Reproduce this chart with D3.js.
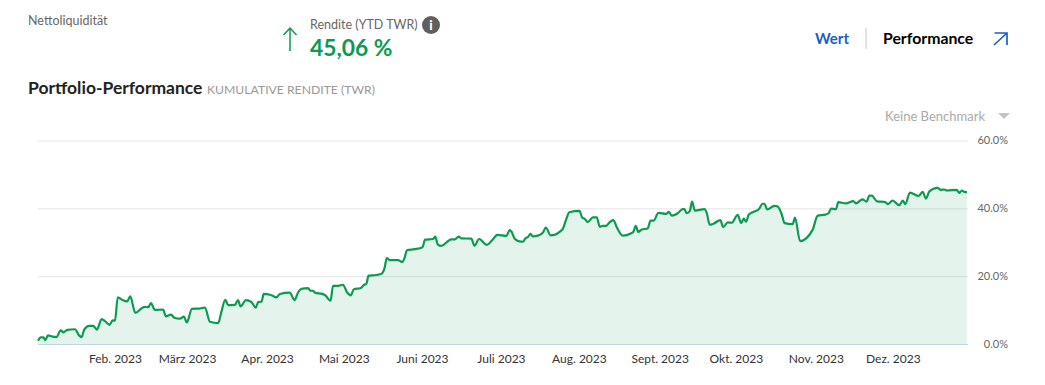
<!DOCTYPE html>
<html lang="de">
<head>
<meta charset="utf-8">
<script src="https://cdn.jsdelivr.net/npm/d3@7"></script>
<style>
	html, body { margin: 0; padding: 0; background: #fff; }
	svg { display: block; font-family: Lato, "Open Sans", sans-serif; }
	.domain { display: none; }
	.tick line { display: none; }
</style>
</head>
<body>
<div id="viz-container"></div>
<script>
// days since 1 Jan 2023
const days = [0,1.1,2.1,2.9,3.9,5.8,7.3,8.9,9.9,11.5,14.5,16.1,17.1,18.2,20.1,21.7,23.1,25,26.3,28.1,29.3,30.2,
	31.3,33.2,35,36.2,38.2,40.7,42,43.3,44.3,45.9,49.1,50.2,52.2,53.5,55.7,57.3,58.4,60.4,63.5,65.5,67.5,70.7,72,73.5,74.6,77.3,78.5,79.5,81.6,83.8,85.5,86.4,87.7,88.6,
	91.6,93.6,94.9,98.8,100.7,102.1,103.4,106,106.9,108,108.9,111.3,112.9,114.8,115.8,117.8,119.7,
	121.3,122.7,124,126.5,128,128.9,129.7,132.8,134.9,136,136.9,138,141.3,143,143.8,144.8,147.8,150.9,
	151.9,155,155.9,157,158.3,162.2,163.6,165.1,166.2,170.1,171.3,173.1,176.2,178.3,180.3,
	183.8,185.1,185.8,187.1,189,190.3,191.4,192.3,193.3,194.2,196.2,198.2,199.3,201.2,202.7,204.7,206,207.3,208.5,
	212.5,213.6,214.5,215.8,217.8,219.3,220.5,221.7,223,224.3,225.8,227.2,229.5,232.8,233.7,234.6,235.6,237,239.3,240.4,241.6,
	243.5,246.5,247.6,248.7,251.1,253,253.7,254.6,255.8,256.7,257.8,261.6,262.5,263.6,265.1,267.8,268.9,270.7,272.3,
	274.6,276,277,277.9,278.9,280.5,282.9,284.4,285.1,286.2,289,290.3,291.9,293,296.2,297.1,299.1,
	304,306,309,310.3,311.3,313.2,314.1,317.1,320,321,323.6,325.2,326.3,327.2,329.3,332.5,333.5,
	335.4,338,339.4,340.4,342.2,345.6,347.2,348.5,349.8,353,354.4,355.7,356.7,360.5,361.6,362.6,363.5,364.6]
const values = [1.1,2.1,2.1,1.3,2.7,2.3,2.2,4.2,3.6,4.3,4.5,2.7,2.2,4.5,5.5,5.5,4.4,7.5,6.9,5.8,7.1,7,
	13.9,13.1,12.7,14.2,9.3,10.7,11.1,11,12.2,10.2,10.3,8.3,8.8,7.9,7.6,8.2,6.5,10.5,10.6,10.9,6.7,6.3,9.7,13.2,11.6,11.7,13.1,11.2,13.1,12.5,10.9,12.5,12.6,14.9,
	14.5,13.9,14.9,15.3,13.1,15.4,16.4,16.6,15.9,15.8,15.2,15,14.4,12.9,17.3,17.3,17.6,
	15.4,14.5,16.3,16.6,17.6,17.9,20.3,20.5,20.9,22.5,25.5,24.9,24.9,24.3,25.4,27.8,28.1,28.7,
	30.9,31.1,31.8,29.4,29.1,31,31,31.8,31.3,31.2,29.1,31.1,29.4,30.8,32.3,
	32,33.7,33.3,31.2,30.4,30.3,31.4,31.7,32.6,31.9,32.1,33,34.5,32.2,32.3,33.2,34.1,36.9,39,
	39.4,37.4,37.1,36.1,37.5,37.5,34.7,35,35,36,36.7,34.5,32.1,32.8,33.3,35,33.2,33.9,34.2,36.5,36.5,
	38.8,38.5,39.1,38,38.7,39.9,39.9,38.7,39.3,42.1,39.5,39.9,38.7,35.3,35.6,36.7,34.6,36,35.9,
	38.2,35.8,37.1,36.2,38.2,39,39.9,41.5,41.5,39.8,40.9,40.7,38.4,35.8,35.5,37.4,30.5,
	33.8,38,38.3,38.7,40.1,39.9,42,41.6,42.3,41.6,42.8,42.1,43.9,43.9,42.2,42,41.4,
	42.4,41.1,42.4,41.4,44.8,43.8,45,43,45.1,46.2,45.6,45.7,45.4,45.6,44.7,45.4,45,44.9]

// where the month labels sit on the day scale
const monthTicks = [30.2,58.5,89.9,120,150.7,181.7,212.3,244,273.9,305.3,335.5]
const monthLabels = ['Feb. 2023','März 2023','Apr. 2023','Mai 2023','Juni 2023','Juli 2023','Aug. 2023','Sept. 2023','Okt. 2023','Nov. 2023','Dez. 2023']
const yTicks = [0,20,40,60]

const GREEN = '#0a9b50'
const BLUE = '#1a5fc8'

let svg = d3.select('#viz-container')
	.append('svg')
	.attr('width', 1045)
	.attr('height', 385)

let x = d3.scaleLinear().domain([0, 365]).range([38, 968])
let y = d3.scaleLinear().domain([0, 60]).range([344.5, 141])

let series = days.map(function (d, i) { return [d, values[i]] })

// grid lines
svg.append('g')
	.selectAll('line')
	.data(yTicks)
	.enter()
	.append('line')
	.attr('x1', x(0))
	.attr('x2', x(365))
	.attr('y1', function (d) { return y(d) })
	.attr('y2', function (d) { return y(d) })
	.attr('stroke', function (d) { return d === 0 ? '#ccd8f3' : '#e4e4e4' })
	.attr('stroke-width', 1)

// area + line
svg.append('path')
	.datum(series)
	.attr('d', d3.area().curve(d3.curveMonotoneX).x(function (d) { return x(d[0]) }).y0(y(0)).y1(function (d) { return y(d[1]) }))
	.attr('fill', GREEN)
	.attr('fill-opacity', 0.11)

svg.append('path')
	.datum(series)
	.attr('d', d3.line().curve(d3.curveMonotoneX).x(function (d) { return x(d[0]) }).y(function (d) { return y(d[1]) }))
	.attr('fill', 'none')
	.attr('stroke', GREEN)
	.attr('stroke-width', 2.2)
	.attr('stroke-linejoin', 'round')

// axes
let xAxis = svg.append('g')
	.attr('transform', 'translate(0,' + 345.5 + ')')
	.call(d3.axisBottom(x).tickValues(monthTicks).tickFormat(function (d, i) { return monthLabels[i] }).tickSize(0).tickPadding(9))
xAxis.selectAll('text')
	.attr('font-family', 'Lato')
	.attr('font-size', 12)
	.attr('fill', '#333')

let yAxis = svg.append('g')
	.attr('transform', 'translate(1008,-1)')
	.call(d3.axisRight(y).tickValues(yTicks).tickFormat(function (d) { return d.toFixed(1) + '%' }).tickSize(0).tickPadding(0))
yAxis.selectAll('text')
	.attr('font-family', 'Lato')
	.attr('font-size', 11)
	.attr('fill', '#666')
	.attr('text-anchor', 'end')

// header texts
function label(txt, px, py, size, color, weight, anchor) {
	return svg.append('text')
		.attr('x', px)
		.attr('y', py)
		.attr('font-size', size)
		.attr('fill', color)
		.attr('font-weight', weight || 400)
		.attr('text-anchor', anchor || 'start')
		.text(txt)
}

label('Nettoliquidität', 28, 25, 12.5, '#666')
label('Rendite (YTD TWR)', 310, 29, 12.5, '#666')
label('45,06 %', 310, 56, 22.8, GREEN, 700)
label('Portfolio-Performance', 28, 94, 17.5, '#222', 700)
label('KUMULATIVE RENDITE (TWR)', 207, 94, 12.2, '#999')
label('Wert', 849, 44, 15, BLUE, 700, 'end')
label('Performance', 883, 44, 15.8, '#000', 700)
label('Keine Benchmark', 985, 121, 13, '#aaa', 400, 'end')

// up arrow
svg.append('path')
	.attr('d', 'M290 51V28M283.5 35L290 28L296.5 35')
	.attr('fill', 'none')
	.attr('stroke', GREEN)
	.attr('stroke-width', 1.5)

// info icon
svg.append('circle').attr('cx', 431).attr('cy', 25).attr('r', 9).attr('fill', '#5f5f5f')
label('i', 431, 30, 13, '#fff', 900, 'middle')

// separator
svg.append('line').attr('x1', 866).attr('x2', 866).attr('y1', 28).attr('y2', 49).attr('stroke', '#e2e2e2').attr('stroke-width', 2)

// outward arrow
svg.append('path')
	.attr('d', 'M994 45L1007 33M994.5 33H1007V45')
	.attr('fill', 'none')
	.attr('stroke', BLUE)
	.attr('stroke-width', 1.7)

// dropdown triangle
svg.append('path').attr('d', 'M998 113H1010L1004 119Z').attr('fill', '#c4c4c4')
</script>
</body>
</html>
